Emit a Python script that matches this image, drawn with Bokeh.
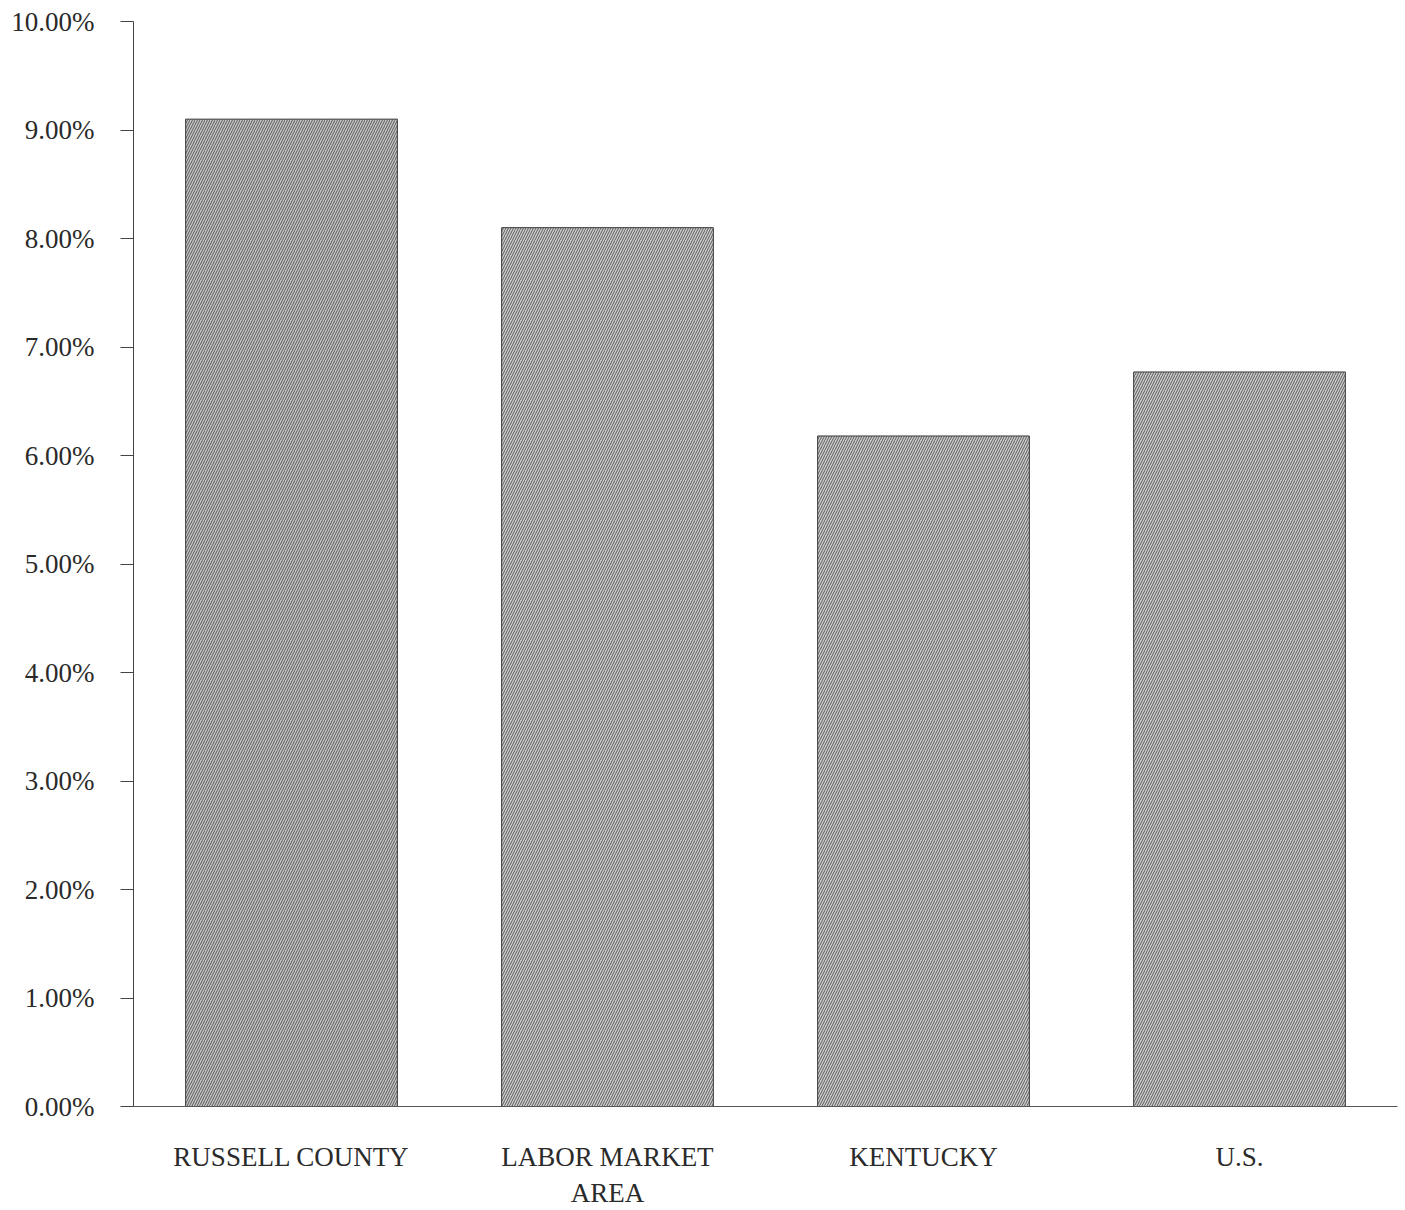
from bokeh.plotting import figure
from bokeh.models import FactorRange, PrintfTickFormatter, FixedTicker, ColumnDataSource
from bokeh.embed import file_html
from bokeh.resources import INLINE

categories = ["RUSSELL COUNTY", "LABOR MARKET\nAREA", "KENTUCKY", "U.S."]
values = [9.10, 8.10, 6.18, 6.77]
y_ticks = [0, 1, 2, 3, 4, 5, 6, 7, 8, 9, 10]
fill_colors = ["#c4c4c4", "#cdcdcd", "#cdcdcd", "#cdcdcd"]

src = ColumnDataSource(dict(cat=categories, val=values, fill=fill_colors))

p = figure(x_range=FactorRange(*categories), y_range=(0, 10),
           width=1400, height=1210, output_backend="svg", toolbar_location=None,
           min_border_left=133, min_border_right=3, min_border_top=21, min_border_bottom=103)

p.vbar(x="cat", top="val", width=0.67, source=src, fill_color="fill",
       line_color="#3a3a3a", line_width=1,
       hatch_pattern="/", hatch_color="#5a5a5a", hatch_weight=1, hatch_scale=5)

p.xgrid.visible = False
p.ygrid.visible = False
p.outline_line_color = None

p.yaxis.ticker = FixedTicker(ticks=y_ticks)
p.yaxis.formatter = PrintfTickFormatter(format="%.2f%%")
p.yaxis.minor_tick_line_color = None
p.yaxis.major_tick_in = 0
p.yaxis.major_tick_out = 13
p.yaxis.major_label_standoff = 26
p.yaxis.axis_line_color = "#444444"
p.yaxis.major_tick_line_color = "#444444"
p.yaxis.major_label_text_font_size = "27px"

p.xaxis.major_tick_line_color = None
p.xaxis.minor_tick_line_color = None
p.xaxis.axis_line_color = "#555555"
p.xaxis.major_label_standoff = 29
p.xaxis.major_label_text_font_size = "27px"

for ax in (p.xaxis, p.yaxis):
    ax.major_label_text_font = "Liberation Serif"
    ax.major_label_text_color = "#2a2a2a"

open("out.html", "w").write(file_html(p, INLINE))
